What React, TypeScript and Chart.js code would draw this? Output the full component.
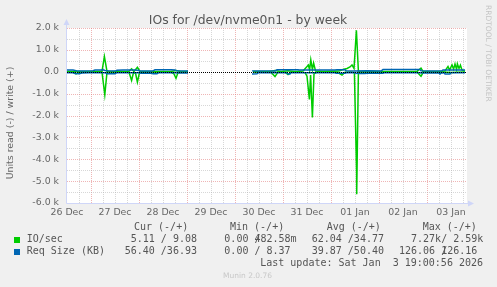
import React, { useEffect, useRef } from 'react';
import { Chart, registerables } from 'chart.js';

Chart.register(...registerables);

// ---- data (x = hours since 26 Dec 12:00) ----
const dayLabels = ['26 Dec', '27 Dec', '28 Dec', '29 Dec', '30 Dec', '31 Dec', '01 Jan', '02 Jan', '03 Jan'];
const yTickValues = [2000, 1000, 0, -1000, -2000, -3000, -4000, -5000, -6000];
const yTickLabels = ['2.0 k', '1.0 k', '0.0', '-1.0 k', '-2.0 k', '-3.0 k', '-4.0 k', '-5.0 k', '-6.0 k'];

type Pair = [number, number | null];

const ioWrite: Pair[] = [
  [0, 15], [3, 10], [6, 10], [9, 15], [12, 10], [15, 15], [17.5, 20], [18.7, 700], [20, 15], [23, 10],
  [27, 15], [31, 20], [32.3, 130], [33.5, 15], [35.2, 200], [36.5, 15], [40, 10], [44, 15], [48, 10],
  [52, 15], [54.5, 60], [57, 10], [60.5, 10], [76, null],
  [93, 10], [97, 15], [101, 10], [104, 60], [107, 15], [110.5, 40], [114, 15], [118, 30], [120.7, 310],
  [121.3, 80], [121.9, 545], [122.7, 100], [123.3, 400], [124.3, 30], [128, 15], [132, 20], [136, 30],
  [138, 100], [140, 150], [141.5, 220], [142.5, 310], [143.5, 150], [144.7, 1900], [145.7, 15], [150, 10],
  [155, 15], [160, 10], [165, 15], [170, 10], [175, 15], [177, 170], [178, 15], [182, 10], [186, 15],
  [189, 40], [190.5, 240], [191.3, 80], [192.5, 310], [193.3, 120], [194, 350], [194.8, 100], [195.2, 360],
  [196, 150], [196.7, 300], [197.5, 80], [199, 30],
];

const ioRead: Pair[] = [
  [0, -10], [3, -15], [4.5, -100], [6, -15], [9, -10], [12, -15], [15, -10], [17.5, -20], [18.9, -1050],
  [20, -15], [24, -10], [28, -15], [31, -20], [32.3, -400], [33.3, -20], [34.3, -80], [35.2, -480],
  [36.3, -20], [40, -10], [44, -15], [48, -10], [52, -20], [53.5, -100], [54.5, -300], [55.5, -40],
  [58, -15], [60.5, -10], [76, null],
  [93, -15], [98, -10], [102, -20], [104, -220], [105.5, -15], [109, -20], [110.5, -130], [112, -15],
  [116, -10], [119, -40], [120, -200], [121.2, -1270], [121.8, -150], [122.7, -2090], [123.5, -100],
  [125, -15], [130, -10], [135, -20], [137.5, -150], [139, -20], [142, -15], [143.7, -40], [144.8, -4600],
  [144.85, -5600], [145.7, -15], [150, -10], [155, -15], [160, -10], [165, -15], [170, -10], [175, -15],
  [177, -210], [178.2, -15], [183, -10], [188, -15], [192, -30], [195, -20], [199, -15],
];

const reqWrite: Pair[] = [
  [0, 75], [3, 80], [5, 40], [8, 30], [11, 40], [13, 50], [14, 75], [17, 80], [18, 90], [19, 60], [21, 40],
  [24, 30], [25, 70], [28, 80], [30, 75], [34, 80], [36, 60], [37, 30], [42, 30], [43, 40], [44, 90],
  [48, 95], [52, 90], [54, 85], [55, 40], [60.5, 30], [76, null],
  [92.5, 40], [95, 30], [100, 40], [104, 40], [105, 90], [110, 95], [115.5, 90], [116, 80], [125, 85],
  [134, 80], [135, 95], [139, 90], [139.5, 40], [144, 30], [150, 40], [157, 30], [158, 100], [165, 105],
  [170, 100], [176.5, 100], [177, 40], [183, 30], [187.5, 40], [188, 80], [195, 85], [199, 80],
];

const reqRead: Pair[] = [
  [0, -40], [3, -50], [4, -80], [6, -90], [7.5, -60], [11, -50], [14, -40], [19, -40], [20, -90], [24, -90],
  [25, -40], [30, -40], [36, -50], [37, -70], [42, -60], [43, -90], [45, -90], [46, -40], [54, -40],
  [55, -60], [60.5, -60], [76, null],
  [92.5, -100], [95, -90], [95.5, -50], [104, -50], [105, -40], [110, -40], [110.5, -100], [111.5, -100],
  [112, -40], [134, -40], [134.5, -70], [139, -70], [140, -40], [144, -40], [144.5, -70], [146.5, -85],
  [149, -80], [150, -70], [158, -70], [158.5, -40], [176.5, -40], [177, -60], [186, -60], [186.5, -100],
  [187, -60], [188, -60], [188.5, -40], [189, -100], [191.5, -100], [192, -40], [199, -40],
];

const legendHeader = ['Cur (-/+)', 'Min (-/+)', 'Avg (-/+)', 'Max (-/+)'];
const ioLegend: [string, string][] = [['  5.11 ', '  9.08 '], ['  0.00 ', '482.58m'], [' 62.04 ', ' 34.77 '], ['  7.27k', '  2.59k']];
const reqLegend: [string, string][] = [[' 56.40 ', ' 36.93 '], ['  0.00 ', '  8.37 '], [' 39.87 ', ' 50.40 '], ['126.06 ', '126.16 ']];
const lastUpdate = 'Last update: Sat Jan  3 19:00:56 2026';

const GREEN = '#00cc00';
const BLUE = '#0066b3';

const toPoints = (pairs: Pair[]) => pairs.map(([x, y]) => ({ x, y }));

const muninPlugin = {
  id: 'munin',
  beforeDraw(chart: any) {
    const { ctx, chartArea: a } = chart;
    ctx.save();
    ctx.fillStyle = '#f0f0f0';
    ctx.fillRect(0, 0, chart.width, chart.height);
    ctx.fillStyle = '#ffffff';
    ctx.fillRect(a.left, a.top, a.right - a.left, a.bottom - a.top);
    ctx.restore();
  },
  beforeDatasetsDraw(chart: any) {
    const { ctx, chartArea: a } = chart;
    const xs = chart.scales.x;
    const ys = chart.scales.y;
    ctx.save();
    ctx.lineWidth = 1;
    ctx.setLineDash([1, 1]);
    const major = 'rgba(225,120,120,0.55)';
    const minor = 'rgba(175,175,175,0.5)';
    for (let h = 6; h < 200; h += 6) {
      const px = Math.round(xs.getPixelForValue(h)) + 0.5;
      ctx.strokeStyle = h % 24 === 12 ? major : minor;
      ctx.beginPath();
      ctx.moveTo(px, a.top);
      ctx.lineTo(px, a.bottom);
      ctx.stroke();
    }
    for (let v = -5500; v <= 2000; v += 500) {
      const py = Math.round(ys.getPixelForValue(v)) + 0.5;
      ctx.strokeStyle = v % 1000 === 0 ? major : minor;
      ctx.beginPath();
      ctx.moveTo(a.left, py);
      ctx.lineTo(a.right, py);
      ctx.stroke();
    }
    ctx.restore();
  },
  afterDatasetsDraw(chart: any) {
    const { ctx, chartArea: a } = chart;
    const ys = chart.scales.y;
    ctx.save();
    const zy = Math.round(ys.getPixelForValue(0)) + 0.5;
    ctx.strokeStyle = '#000000';
    ctx.lineWidth = 1;
    ctx.setLineDash([1, 1]);
    ctx.beginPath();
    ctx.moveTo(a.left, zy);
    ctx.lineTo(a.right, zy);
    ctx.stroke();
    ctx.setLineDash([]);
    const axisColor = '#CFD6F8';
    ctx.strokeStyle = axisColor;
    ctx.fillStyle = axisColor;
    const by = Math.round(a.bottom) + 0.5;
    const lx = Math.round(a.left) - 0.5;
    ctx.beginPath();
    ctx.moveTo(lx, by);
    ctx.lineTo(lx, a.top - 5);
    ctx.moveTo(lx, by);
    ctx.lineTo(a.right + 3, by);
    ctx.stroke();
    ctx.beginPath();
    ctx.moveTo(lx, a.top - 9);
    ctx.lineTo(lx - 3, a.top - 3);
    ctx.lineTo(lx + 3, a.top - 3);
    ctx.closePath();
    ctx.fill();
    ctx.beginPath();
    ctx.moveTo(a.right + 7, by);
    ctx.lineTo(a.right + 1, by - 3);
    ctx.lineTo(a.right + 1, by + 3);
    ctx.closePath();
    ctx.fill();
    ctx.restore();
  },
  afterDraw(chart: any) {
    const { ctx } = chart;
    ctx.save();
    ctx.fillStyle = '#555555';
    ctx.font = '12.4px "DejaVu Sans"';
    ctx.textAlign = 'center';
    ctx.textBaseline = 'alphabetic';
    ctx.fillText('IOs for /dev/nvme0n1 - by week', 248, 24);
    ctx.save();
    ctx.translate(11, 123);
    ctx.rotate(-Math.PI / 2);
    ctx.font = '9.4px "DejaVu Sans"';
    ctx.fillStyle = '#666666';
    ctx.textAlign = 'center';
    ctx.textBaseline = 'middle';
    ctx.fillText('Units read (-) / write (+)', 0, 0);
    ctx.restore();
    ctx.save();
    ctx.translate(487.5, 5);
    ctx.rotate(Math.PI / 2);
    ctx.font = '7.5px "DejaVu Sans"';
    ctx.fillStyle = '#c4c4c4';
    ctx.textAlign = 'left';
    ctx.textBaseline = 'middle';
    ctx.fillText('RRDTOOL / TOBI OETIKER', 0, 0);
    ctx.restore();
    ctx.font = '10px "DejaVu Sans Mono"';
    ctx.fillStyle = '#555555';
    ctx.textAlign = 'left';
    ctx.textBaseline = 'middle';
    const cw = ctx.measureText('0').width;
    const headerX = [134, 230, 326.7, 422.7];
    legendHeader.forEach((h, i) => ctx.fillText(h, headerX[i], 227.5));
    const colX = [118.7, 212.3, 305.7, 399];
    const rows: [string, string, [string, string][], number][] = [
      ['IO/sec', GREEN, ioLegend, 239.5],
      ['Req Size (KB)', BLUE, reqLegend, 251.5],
    ];
    rows.forEach(([name, color, cells, y]) => {
      ctx.fillStyle = color;
      ctx.fillRect(14, Math.round(y) - 3, 6, 6);
      ctx.fillStyle = '#555555';
      ctx.fillText(name, 26.7, y);
      cells.forEach(([v1, v2], i) => {
        const x = colX[i];
        ctx.fillText(v1, x, y);
        ctx.fillText(v2, x + 7 * cw, y);
        ctx.fillText('/', x + 7 * cw, y);
      });
    });
    ctx.textAlign = 'right';
    ctx.fillText(lastUpdate, 483, 263.5);
    ctx.font = '7.5px "DejaVu Sans"';
    ctx.fillStyle = '#c8c8c8';
    ctx.textAlign = 'center';
    ctx.fillText('Munin 2.0.76', 247.5, 276);
    ctx.restore();
  },
};

export default function App() {
  const ref = useRef<HTMLCanvasElement | null>(null);
  useEffect(() => {
    document.body.style.margin = '0';
    if (!ref.current) return;
    const line = (data: Pair[], color: string, order: number) => ({
      data: toPoints(data),
      borderColor: color,
      backgroundColor: color,
      borderWidth: 1.5,
      pointRadius: 0,
      tension: 0,
      fill: false,
      spanGaps: false,
      order,
    });
    const chart = new Chart(ref.current, {
      type: 'line',
      data: {
        datasets: [
          line(reqWrite, BLUE, 1),
          line(reqRead, BLUE, 1),
          line(ioWrite, GREEN, 2),
          line(ioRead, GREEN, 2),
        ] as any,
      },
      options: {
        responsive: false,
        animation: false,
        events: [],
        layout: { padding: { top: 28, right: 30, bottom: 0, left: 0 } },
        plugins: { legend: { display: false }, tooltip: { enabled: false }, title: { display: false } },
        scales: {
          x: {
            type: 'linear',
            min: 0,
            max: 200,
            afterFit: (s: any) => { s.height = 84; },
            grid: { display: false, drawTicks: false },
            border: { display: false },
            ticks: {
              stepSize: 6,
              autoSkip: false,
              maxRotation: 0,
              minRotation: 0,
              includeBounds: false,
              padding: 4,
              color: '#666666',
              font: { family: 'DejaVu Sans', size: 9.4 },
              callback: (v: any) => (Number(v) % 24 === 0 ? dayLabels[Number(v) / 24] : ''),
            },
          },
          y: {
            type: 'linear',
            min: -6000,
            max: 2000,
            afterFit: (s: any) => { s.width = 67; },
            grid: { display: false, drawTicks: false },
            border: { display: false },
            ticks: {
              stepSize: 1000,
              autoSkip: false,
              padding: 8,
              color: '#666666',
              font: { family: 'DejaVu Sans', size: 9.4 },
              callback: (v: any) => {
                const i = yTickValues.indexOf(Number(v));
                return i >= 0 ? yTickLabels[i] : '';
              },
            },
          },
        },
      } as any,
      plugins: [muninPlugin],
    });
    return () => chart.destroy();
  }, []);
  return (
    <canvas ref={ref} width={497} height={287} style={{ display: 'block', width: 497, height: 287 }} />
  );
}
